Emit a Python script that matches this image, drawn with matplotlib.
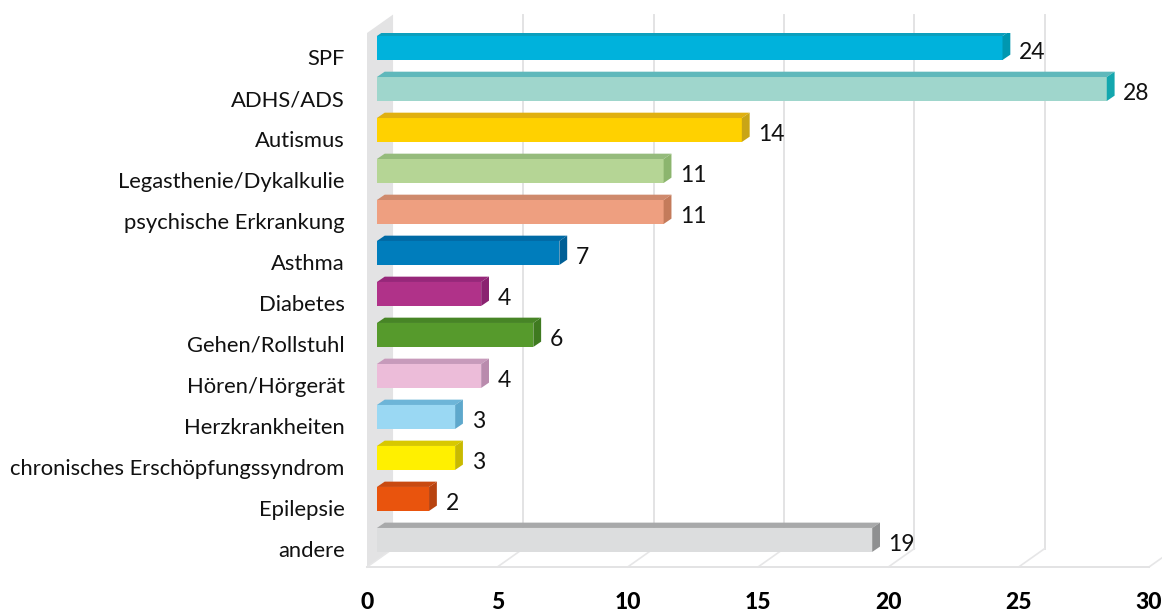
import numpy as np
import matplotlib
matplotlib.use("Agg")
import matplotlib.pyplot as plt

categories = ["SPF", "ADHS/ADS", "Autismus", "Legasthenie/Dykalkulie",
              "psychische Erkrankung", "Asthma", "Diabetes", "Gehen/Rollstuhl",
              "Hören/Hörgerät", "Herzkrankheiten",
              "chronisches Erschöpfungssyndrom", "Epilepsie", "andere"]
values = [24, 28, 14, 11, 11, 7, 4, 6, 4, 3, 3, 2, 19]
x_ticks = [0, 5, 10, 15, 20, 25, 30]

front_colors = ["#00b2dc", "#9fd6cc", "#ffd100", "#b5d595", "#ee9f80", "#007dbc", "#b03289",
                "#569a2c", "#ecbcd9", "#9ad8f3", "#fff000", "#e9540d", "#dcddde"]
top_colors = ["#0b9fbd", "#5fb8bb", "#e0b010", "#95bb7c", "#cf8a6d", "#006aa5", "#97277a",
              "#478526", "#c79abb", "#6db5d8", "#d8c800", "#c94a10", "#a8a9aa"]
side_colors = ["#0097b0", "#14a7ae", "#c9a516", "#8cb56e", "#c47b5b", "#005f96", "#8a2270",
               "#3f7a20", "#b98bad", "#5ea8cc", "#c9ba00", "#b84310", "#8f9091"]

plt.rcParams["font.family"] = ["Lato", "DejaVu Sans"]

W, H = 1162, 612
fig = plt.figure(figsize=(W / 100, H / 100), dpi=100)
# axes from x=0 front edge to x=30, floor front edge to wall top
left, right, bottom_px, top_px = 367, 1149, 567, 33
ax = fig.add_axes([left / W, 1 - bottom_px / H, (right - left) / W, (bottom_px - top_px) / H])
ax.set_xlim(0, 30)
ax.set_ylim(12.66, -0.366)
y_lo, y_hi = ax.get_ylim()

# depth of the 3d box in data units
dx, dy = 1.0, 0.45
bar_h = 0.585
shift = 0.38       # bars stand off the wall
bdx, bdy = 0.3, 0.13
y = np.arange(len(categories))

# walls and grid
ax.fill([0, dx, dx, 0], [y_hi, y_hi - dy, y_lo - dy, y_lo], color="#e3e3e4", lw=0, zorder=1, clip_on=False)
for v in x_ticks[1:]:
    ax.plot([v + dx, v + dx], [y_hi - dy, y_lo - dy], color="#e3e3e4", lw=1.4, zorder=1, clip_on=False)
for v in x_ticks:
    ax.plot([v, v + dx], [y_lo, y_lo - dy], color="#e6e6e7", lw=1.2, zorder=1, clip_on=False)
ax.plot([0, 30], [y_lo, y_lo], color="#e3e3e4", lw=1.4, zorder=1, clip_on=False)
ax.plot([0, dx], [y_lo - dy, y_lo - dy], color="#e3e3e4", lw=1, zorder=1)

# bars with top and side faces
for i, v in enumerate(values):
    y0 = y[i] - bar_h / 2
    y1 = y[i] + bar_h / 2
    x1 = shift + v
    ax.barh(y[i], v, left=shift, height=bar_h, color=front_colors[i], lw=0, zorder=3)
    ax.fill([shift, shift + bdx, x1 + bdx, x1], [y0, y0 - bdy, y0 - bdy, y0],
            color=top_colors[i], lw=0, zorder=3)
    ax.fill([x1, x1 + bdx, x1 + bdx, x1], [y0, y0 - bdy, y1 - bdy, y1],
            color=side_colors[i], lw=0, zorder=3)
    ax.text(x1 + bdx + 0.33, y[i] + 0.1, str(v), fontsize=16.5, va="center", ha="left",
            color="#111111", zorder=4)

ax.set_yticks(y + 0.22)
ax.set_yticklabels(categories, fontsize=15.8, color="#111111")
ax.set_xticks(x_ticks)
ax.set_xticklabels(x_ticks, fontsize=16.5, fontweight="black", color="black")
ax.tick_params(axis="both", length=0)
ax.tick_params(axis="y", pad=16)
ax.tick_params(axis="x", pad=18)
for s in ax.spines.values():
    s.set_visible(False)
ax.patch.set_alpha(0)

fig.savefig("out.png", dpi=100)
